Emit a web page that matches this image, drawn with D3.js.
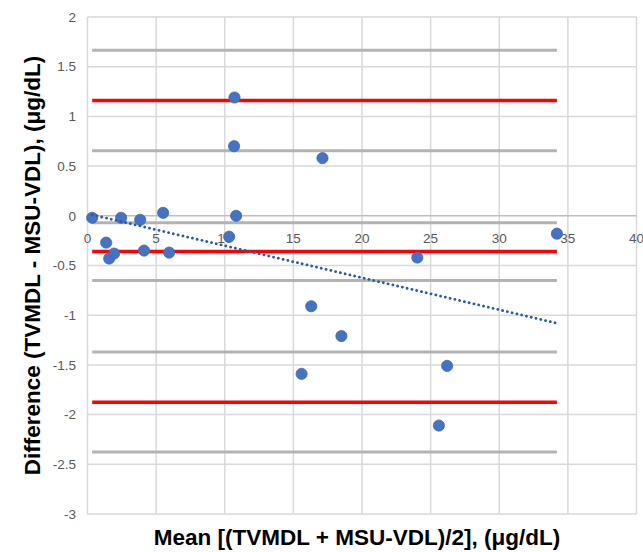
<!DOCTYPE html>
<html>
<head>
<meta charset="utf-8">
<script src="https://cdn.jsdelivr.net/npm/d3@7"></script>
<style>
  body { margin: 0; background: #fff; }
  svg { font-family: "Liberation Sans", Arial, sans-serif; }
  .tick-label { fill: #595959; font-size: 13.5px; }
  .axis-title { fill: #000; font-size: 22.5px; font-weight: bold; }
</style>
</head>
<body>
<div id="chart"></div>
<script>
// mean of the two methods (x) and their difference (y), one entry per sample
var meanVals = [0.34, 1.36, 1.58, 1.94, 2.45, 3.84, 4.12, 5.51, 5.95, 10.32, 10.71,
                10.68, 10.83, 17.12, 16.3, 18.5, 15.6, 24.03, 26.2, 25.6, 34.2];
var diffVals = [-0.02, -0.27, -0.43, -0.38, -0.02, -0.04, -0.35, 0.03, -0.37, -0.21, 1.19,
                0.70, 0.00, 0.58, -0.91, -1.21, -1.59, -0.42, -1.51, -2.11, -0.18];

// bias and limits of agreement (red), their confidence bounds (gray)
var limitLines = [1.16, -0.36, -1.875];
var boundLines = [1.665, 0.655, -0.07, -0.65, -1.37, -2.375];

var xTicks = [0, 5, 10, 15, 20, 25, 30, 35, 40];
var yTicks = [2, 1.5, 1, 0.5, 0, -0.5, -1, -1.5, -2, -2.5, -3];

var xTitle = "Mean [(TVMDL + MSU-VDL)/2], (\u03bcg/dL)";
var yTitle = "Difference (TVMDL - MSU-VDL), (\u03bcg/dL)";

var divWidth = 643, divHeight = 552;
var margin = {top: 17, right: 6.5, bottom: 38, left: 87.5};

var svg = d3.select("#chart").append("svg")
    .attr("width", divWidth)
    .attr("height", divHeight);

var x = d3.scaleLinear().domain([0, 40]).range([margin.left, divWidth - margin.right]);
var y = d3.scaleLinear().domain([-3, 2]).range([divHeight - margin.bottom, margin.top]);

var data = meanVals.map(function(m, i) { return {x: m, y: diffVals[i]}; });
var xMin = d3.min(meanVals), xMax = d3.max(meanVals);

// gridlines
svg.append("g").selectAll("line")
    .data(yTicks.filter(function(d) { return d !== 0; }))
    .enter().append("line")
    .attr("x1", x(0)).attr("x2", x(40))
    .attr("y1", function(d) { return y(d); })
    .attr("y2", function(d) { return y(d); })
    .attr("stroke", "#d9d9d9").attr("stroke-width", 1.5);

svg.append("g").selectAll("line")
    .data(xTicks)
    .enter().append("line")
    .attr("x1", function(d) { return x(d); })
    .attr("x2", function(d) { return x(d); })
    .attr("y1", y(2)).attr("y2", y(-3))
    .attr("stroke", "#d9d9d9").attr("stroke-width", 1.5);

// horizontal axis at 0
svg.append("line")
    .attr("x1", x(0)).attr("x2", x(40))
    .attr("y1", y(0)).attr("y2", y(0))
    .attr("stroke", "#bfbfbf").attr("stroke-width", 1.5);

// tick labels
svg.append("g").selectAll("text")
    .data(yTicks)
    .enter().append("text")
    .attr("class", "tick-label")
    .attr("x", 76)
    .attr("y", function(d) { return y(d); })
    .attr("dy", "0.35em")
    .attr("text-anchor", "end")
    .text(function(d) { return d; });

svg.append("g").selectAll("text")
    .data(xTicks)
    .enter().append("text")
    .attr("class", "tick-label")
    .attr("x", function(d) { return x(d); })
    .attr("y", y(0) + 22)
    .attr("dy", "0.35em")
    .attr("text-anchor", "middle")
    .text(function(d) { return d; });

// confidence bounds
svg.append("g").selectAll("line")
    .data(boundLines)
    .enter().append("line")
    .attr("x1", x(xMin)).attr("x2", x(xMax))
    .attr("y1", function(d) { return y(d); })
    .attr("y2", function(d) { return y(d); })
    .attr("stroke", "#b3b3b3").attr("stroke-width", 3);

// mean and limits of agreement
svg.append("g").selectAll("line")
    .data(limitLines)
    .enter().append("line")
    .attr("x1", x(xMin)).attr("x2", x(xMax))
    .attr("y1", function(d) { return y(d); })
    .attr("y2", function(d) { return y(d); })
    .attr("stroke", "#ff0000").attr("stroke-width", 3.5);

// points
svg.append("g").selectAll("circle")
    .data(data)
    .enter().append("circle")
    .attr("cx", function(d) { return x(d.x); })
    .attr("cy", function(d) { return y(d.y); })
    .attr("r", 5.6)
    .attr("fill", "#4472c4")
    .attr("stroke", "#3f69b5").attr("stroke-width", 0.8);

// linear trendline (least squares over the points)
var mx = d3.mean(meanVals), my = d3.mean(diffVals);
var sxy = d3.sum(data, function(d) { return (d.x - mx) * (d.y - my); });
var sxx = d3.sum(data, function(d) { return (d.x - mx) * (d.x - mx); });
var slope = sxy / sxx, intercept = my - slope * mx;

svg.append("line")
    .attr("x1", x(xMin)).attr("y1", y(intercept + slope * xMin))
    .attr("x2", x(xMax)).attr("y2", y(intercept + slope * xMax))
    .attr("stroke", "#2c5aa8")
    .attr("stroke-width", 2.8)
    .attr("stroke-linecap", "round")
    .attr("stroke-dasharray", "0.1 4.8");

// axis titles
svg.append("text")
    .attr("class", "axis-title")
    .attr("x", 357)
    .attr("y", 545)
    .attr("text-anchor", "middle")
    .text(xTitle);

svg.append("text")
    .attr("class", "axis-title")
    .attr("transform", "translate(40," + ((y(2) + y(-3)) / 2) + ") rotate(-90)")
    .attr("text-anchor", "middle")
    .text(yTitle);
</script>
</body>
</html>
